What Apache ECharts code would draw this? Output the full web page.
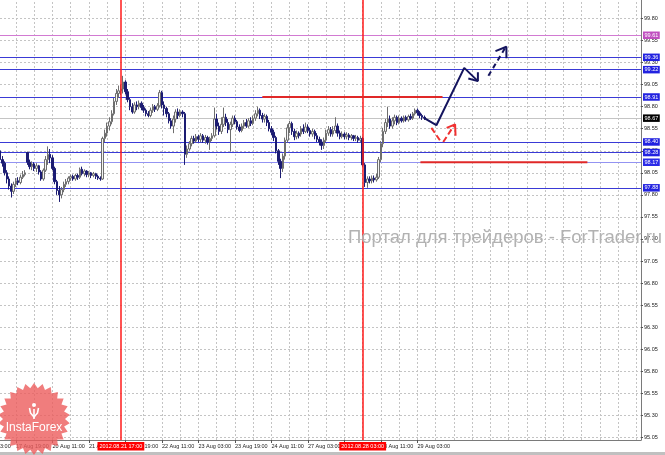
<!DOCTYPE html>
<html><head><meta charset="utf-8">
<script src="https://cdn.jsdelivr.net/npm/echarts@6/dist/echarts.min.js"></script>
<style>html,body{margin:0;padding:0;background:#fff}#c{width:665px;height:455px}</style>
</head><body><div id="c"></div>
<script>
// ---- time axis (hourly bars, weekends skipped) ----
const sessions = [['17 Aug',12,23],['20 Aug',0,23],['21 Aug',0,23],['22 Aug',0,23],['23 Aug',0,23],['24 Aug',0,23],
  ['27 Aug',0,23],['28 Aug',0,23],['29 Aug',0,23],['30 Aug',0,23],['31 Aug',0,23],['03 Sep',0,23],['04 Sep',0,5]];
const categories = [];
sessions.forEach(([d,a,b]) => { for (let h=a; h<=b; h++) categories.push(d+' '+String(h).padStart(2,'0')+':00'); });
const firstLabel = '17 Aug 19:00';
const labelStep = 16;
const gridStep = 8;

// ---- OHLC (H1) ----
const opens = [
98.30,98.20,98.16,98.05,97.98,97.90,97.84,97.92,97.96,97.94,
98.00,98.03,98.28,98.17,98.12,98.15,98.10,98.13,98.06,97.98,
98.08,98.20,98.26,98.22,98.10,97.95,97.85,97.80,97.86,97.92,
97.95,97.99,98.01,97.98,98.02,98.00,98.09,98.04,98.07,98.03,
98.05,98.02,98.04,98.01,97.99,97.98,98.44,98.50,98.58,98.63,
98.72,98.86,98.95,98.98,99.00,99.08,98.97,98.88,98.80,98.74,
98.82,98.80,98.84,98.79,98.76,98.72,98.70,98.76,98.80,98.77,
98.81,98.96,98.82,98.78,98.72,98.64,98.58,98.66,98.74,98.70,
98.74,98.72,98.26,98.32,98.38,98.44,98.41,98.46,98.43,98.47,
98.42,98.45,98.40,98.44,98.47,98.66,98.58,98.52,98.60,98.68,
98.62,98.54,98.60,98.67,98.63,98.57,98.53,98.58,98.62,98.58,
98.64,98.61,98.67,98.72,98.76,98.70,98.66,98.69,98.62,98.55,
98.51,98.45,98.30,98.18,98.10,98.24,98.42,98.56,98.61,98.52,
98.46,98.50,98.49,98.55,98.52,98.57,98.53,98.49,98.52,98.47,
98.43,98.40,98.36,98.42,98.50,98.54,98.49,98.53,98.58,98.50,
98.46,98.49,98.46,98.48,98.45,98.47,98.44,98.45,98.42,98.44,
98.14,97.94,97.98,97.96,97.99,97.97,98.00,98.20,98.38,98.52,
98.62,98.66,98.58,98.64,98.68,98.62,98.67,98.64,98.68,98.65,
98.69,98.67,98.72,98.76,98.73,98.70,98.68];
const closes = [
98.20,98.16,98.05,97.98,97.90,97.84,97.92,97.96,97.94,98.00,
98.03,98.05,98.17,98.12,98.15,98.10,98.13,98.06,97.98,98.08,
98.20,98.26,98.22,98.10,97.95,97.85,97.80,97.86,97.92,97.95,
97.99,98.01,97.98,98.02,98.00,98.09,98.04,98.07,98.03,98.05,
98.02,98.04,98.01,97.99,97.98,98.44,98.50,98.58,98.63,98.72,
98.86,98.95,98.98,99.00,99.08,98.97,98.88,98.80,98.74,98.82,
98.80,98.84,98.79,98.76,98.72,98.70,98.76,98.80,98.77,98.81,
98.96,98.82,98.78,98.72,98.64,98.58,98.66,98.74,98.70,98.74,
98.72,98.26,98.32,98.38,98.44,98.41,98.46,98.43,98.47,98.42,
98.45,98.40,98.44,98.47,98.66,98.58,98.52,98.60,98.68,98.62,
98.54,98.60,98.67,98.63,98.57,98.53,98.58,98.62,98.58,98.64,
98.61,98.67,98.72,98.76,98.70,98.66,98.69,98.62,98.55,98.51,
98.45,98.30,98.18,98.10,98.24,98.42,98.56,98.61,98.52,98.46,
98.50,98.47,98.55,98.52,98.57,98.53,98.49,98.52,98.47,98.43,
98.40,98.36,98.42,98.50,98.54,98.49,98.53,98.58,98.50,98.46,
98.49,98.46,98.48,98.45,98.47,98.44,98.45,98.42,98.44,98.14,
97.94,97.98,97.96,97.99,97.97,98.00,98.20,98.38,98.52,98.62,
98.66,98.58,98.64,98.68,98.62,98.67,98.64,98.68,98.65,98.69,
98.67,98.72,98.76,98.73,98.70,98.68,98.67];
const lows = [
98.17,98.12,98.02,97.93,97.86,97.77,97.81,97.89,97.91,97.92,
97.98,98.01,98.14,98.09,98.08,98.07,98.06,98.03,97.96,97.96,
98.06,98.14,98.16,98.08,97.92,97.80,97.72,97.76,97.83,97.89,
97.92,97.96,97.96,97.96,97.97,97.98,98.02,98.01,98.00,98.00,
97.99,98.00,97.98,97.97,97.96,97.97,98.40,98.46,98.53,98.60,
98.70,98.82,98.90,98.93,98.95,98.94,98.85,98.76,98.72,98.72,
98.76,98.77,98.76,98.73,98.69,98.68,98.68,98.73,98.74,98.75,
98.79,98.78,98.70,98.68,98.61,98.55,98.50,98.62,98.66,98.68,
98.68,98.14,98.22,98.30,98.35,98.38,98.39,98.40,98.40,98.39,
98.38,98.37,98.31,98.41,98.45,98.54,98.48,98.49,98.57,98.58,
98.50,98.29,98.57,98.60,98.54,98.51,98.51,98.55,98.56,98.56,
98.58,98.59,98.64,98.69,98.66,98.62,98.62,98.58,98.52,98.48,
98.41,98.27,98.14,97.99,98.06,98.20,98.39,98.50,98.48,98.42,
98.43,98.44,98.46,98.49,98.50,98.50,98.46,98.46,98.43,98.40,
98.36,98.31,98.32,98.40,98.47,98.46,98.46,98.50,98.46,98.43,
98.44,98.43,98.43,98.42,98.42,98.41,98.41,98.39,98.40,98.12,
97.89,97.88,97.93,97.93,97.94,97.95,97.98,98.17,98.34,98.49,
98.57,98.55,98.55,98.60,98.59,98.60,98.62,98.62,98.63,98.63,
98.65,98.65,98.70,98.70,98.67,98.65,98.65];
const highs = [
98.33,98.24,98.18,98.08,98.01,97.93,97.95,97.99,98.00,98.03,
98.07,98.08,98.29,98.20,98.18,98.17,98.16,98.14,98.08,98.10,
98.24,98.35,98.32,98.25,98.12,97.97,97.90,97.89,97.95,97.98,
98.01,98.03,98.03,98.04,98.04,98.11,98.12,98.09,98.08,98.07,
98.06,98.06,98.05,98.03,98.01,98.46,98.54,98.62,98.68,98.76,
98.90,99.00,99.04,99.05,99.15,99.10,99.00,98.90,98.84,98.85,
98.86,98.87,98.86,98.82,98.78,98.75,98.79,98.83,98.82,98.84,
98.99,98.98,98.86,98.80,98.74,98.67,98.70,98.77,98.78,98.77,
98.76,98.74,98.36,98.41,98.47,98.47,98.49,98.48,98.50,98.49,
98.48,98.47,98.46,98.50,98.79,98.72,98.62,98.68,98.79,98.72,
98.66,98.63,98.70,98.70,98.65,98.60,98.61,98.65,98.66,98.67,
98.68,98.70,98.76,98.80,98.78,98.73,98.72,98.71,98.65,98.58,
98.54,98.47,98.32,98.21,98.27,98.45,98.60,98.64,98.63,98.55,
98.53,98.52,98.58,98.60,98.62,98.60,98.56,98.55,98.54,98.50,
98.46,98.43,98.45,98.54,98.58,98.57,98.58,98.68,98.61,98.53,
98.52,98.51,98.51,98.50,98.49,98.48,98.48,98.47,98.47,98.46,
98.16,98.01,98.01,98.02,98.02,98.04,98.23,98.41,98.56,98.66,
98.80,98.70,98.68,98.71,98.70,98.70,98.69,98.70,98.70,98.71,
98.72,98.74,98.78,98.78,98.75,98.72,98.70];

// ---- price axis ticks ----
const yTicks = [95.05,95.30,95.55,95.80,96.05,96.30,96.55,96.80,97.05,97.30,97.55,97.80,98.05,98.30,98.55,98.80,99.05,99.30,99.55,99.80];
const yMin = 95.02, yMax = 100.01;

// ---- horizontal levels ----
const levelValues = [99.61, 99.36, 99.22, 98.91, 98.40, 98.28, 98.17, 97.88];
const levelKinds  = ['pink','blue','blue','blue','blue','blue','light','blue'];
const lastPrice = 98.67;

// ---- marked times (red vertical lines) ----
const markedTimes = ['21 Aug 17:00', '28 Aug 03:00'];
const markedTexts = ['2012.08.21 17:00', '2012.08.28 03:00'];

// ---- hand-drawn annotations (bar index, price) ----
const redUpper = [[115.0, 98.91], [194.0, 98.91]];
const redLower = [[184.3, 98.17], [257.5, 98.17]];
const navyPath = [[186, 98.67], [191.3, 98.59], [203.5, 99.24], [209.5, 99.09]];
const navyHead = [[205.3, 99.12], [209.5, 99.09], [209.5, 99.19]];
const navyDash = [[214.1, 99.15], [221.3, 99.46]];
const navyDashHead = [[217.2, 99.43], [222.0, 99.48], [222.0, 99.35]];
const redLeg1 = [[189.1, 98.56], [193.1, 98.41]];
const redLeg2 = [[194.3, 98.40], [199.1, 98.59]];
const redHead = [[195.8, 98.56], [199.5, 98.60], [199.7, 98.47]];

const ohlc = opens.map((o, i) => [o, closes[i], lows[i], highs[i]]);
const lastIdx = ohlc.length - 1;
const firstLabelIdx = categories.indexOf(firstLabel);
const isLabelIdx = (i) => i <= lastIdx && (i - firstLabelIdx) % labelStep === 0;

const levelColor = { pink: '#d27ad2', blue: '#3a3ad6', light: '#9393f2' };
const boxColor = { pink: '#c050c0', blue: '#2222e0', light: '#2a2ae8' };
const boxLabel = (text, bg) => ({ show: true, position: 'end', distance: 2, formatter: text, color: '#fff',
  backgroundColor: bg, fontSize: 5.5, fontFamily: 'Liberation Sans', padding: [1, 1.5, 0.5, 1.5] });

const levelMarks = levelValues.map((v, i) => ({
  yAxis: v, lineStyle: { color: levelColor[levelKinds[i]], width: 1, type: 'solid' },
  label: boxLabel(v.toFixed(2), boxColor[levelKinds[i]])
}));
levelMarks.push({ yAxis: lastPrice, lineStyle: { color: '#c4c4c4', width: 1, type: 'solid' },
  label: boxLabel(lastPrice.toFixed(2), '#000') });

const timeIdx = markedTimes.map(t => categories.indexOf(t));
const timeMarks = timeIdx.map((idx, i) => ({
  xAxis: idx,
  label: { show: true, position: 'start', distance: 2, formatter: markedTexts[i], color: '#fff',
    backgroundColor: '#ff0000', fontSize: 5.5, fontFamily: 'Liberation Sans', padding: [1.5, 2, 1, 2] }
}));

const gridMarks = [];
for (let i = firstLabelIdx; i < categories.length; i += gridStep) gridMarks.push({ xAxis: i });
yTicks.forEach(v => gridMarks.push({ yAxis: v }));

function pathSeries(data, color, width, type) {
  return { type: 'line', xAxisIndex: 1, yAxisIndex: 0, data, showSymbol: false, symbol: 'none', silent: true,
    lineStyle: { color, width, type }, z: 6, animation: false };
}

// starburst logo outline
const star = [];
const cx = 34, cy = 419, N = 26;
for (let k = 0; k < N * 2; k++) {
  const r = k % 2 === 0 ? 36 : 31;
  const a = Math.PI * k / N - Math.PI / 2;
  star.push([cx + r * Math.cos(a), cy + r * Math.sin(a)]);
}

const chart = echarts.init(document.getElementById('c'), null, { renderer: 'canvas' });
chart.setOption({
  animation: false,
  backgroundColor: '#ffffff',
  grid: { left: 0, right: 24, top: 0, bottom: 15, containLabel: false },
  xAxis: [{
    type: 'category', data: categories, boundaryGap: false,
    axisLine: { show: true, onZero: false, lineStyle: { color: '#7a7a7a', width: 1 } },
    axisTick: { show: true, length: 3, lineStyle: { color: '#555' }, interval: isLabelIdx },
    axisLabel: { show: true, interval: isLabelIdx, align: 'left', margin: 3, fontSize: 5.5,
      fontFamily: 'Liberation Sans', color: '#222', hideOverlap: false },
    splitLine: { show: false }
  }, {
    type: 'value', min: 0, max: categories.length - 1, show: false,
    axisLine: { show: false, onZero: false }, splitLine: { show: false }, axisTick: { show: false }, axisLabel: { show: false }
  }],
  yAxis: [{
    type: 'value', position: 'right', min: yMin, max: yMax,
    axisLine: { show: true, onZero: false, lineStyle: { color: '#7a7a7a', width: 1 } },
    axisTick: { show: true, length: 2, customValues: yTicks, lineStyle: { color: '#555' } },
    axisLabel: { show: true, customValues: yTicks, formatter: (v) => Number(v).toFixed(2), margin: 3,
      fontSize: 5.5, fontFamily: 'Liberation Sans', color: '#222' },
    splitLine: { show: false }
  }],
  series: [
  { type: 'line', data: [], xAxisIndex: 0, yAxisIndex: 0, z: 1, silent: true,
    markLine: { silent: true, symbol: 'none', animation: false, z: 1, label: { show: false },
      lineStyle: { color: '#c4c4c4', type: [2, 2], width: 1 }, data: gridMarks } },
  { type: 'line', data: [], xAxisIndex: 0, yAxisIndex: 0, z: 2, silent: true,
    markLine: { silent: true, symbol: 'none', animation: false, z: 2, data: levelMarks } },
  { type: 'candlestick', data: ohlc, xAxisIndex: 0, yAxisIndex: 0, barWidth: 2,
    itemStyle: { color: '#f4f4f4', color0: '#1c1c72', borderColor: '#6e6e6e', borderColor0: '#1c1c72', borderWidth: 1 },
    z: 3 },
  { type: 'line', data: [], xAxisIndex: 0, yAxisIndex: 0, z: 4, silent: true,
    markLine: { silent: true, symbol: 'none', animation: false, z: 4,
      lineStyle: { color: '#ff1a1a', width: 1.5, type: 'solid' }, data: timeMarks } },
  pathSeries(redUpper, '#e02828', 2, 'solid'),
  pathSeries(redLower, '#e02828', 2, 'solid'),
  pathSeries(navyPath, '#14145e', 2, 'solid'),
  pathSeries(navyHead, '#14145e', 2, 'solid'),
  pathSeries(navyDash, '#14145e', 2, [5, 4]),
  pathSeries(navyDashHead, '#14145e', 2, 'solid'),
  pathSeries(redLeg1, '#f03030', 2, [6, 3]),
  pathSeries(redLeg2, '#f03030', 2, [6, 3]),
  pathSeries(redHead, '#f03030', 2, 'solid')
  ],
  graphic: [
    { type: 'text', left: 348, top: 228, z: 50, style: { text: 'Портал для трейдеров - ForTrader.ru',
      fill: '#b2b2b2', fontSize: 18.5, fontFamily: 'Liberation Sans' } },
    { type: 'text', left: 0, top: 443, z: 50, style: { text: '3:00', fill: '#222', fontSize: 5.5, fontFamily: 'Liberation Sans' } },
    { type: 'rect', left: 0, top: 452, z: 40, shape: { width: 665, height: 3 }, style: { fill: '#c0c0c0' } },
    { type: 'polygon', z: 60, shape: { points: star }, style: { fill: 'rgba(236,92,92,0.8)' } },
    { type: 'circle', z: 61, shape: { cx: 34, cy: 405, r: 2 }, style: { fill: '#fff' } },
    { type: 'polyline', z: 61, shape: { points: [[29.5, 408], [30.5, 413], [34, 417], [37.5, 413], [38.5, 408]] },
      style: { stroke: '#fff', lineWidth: 1.6, fill: null } },
    { type: 'line', z: 61, shape: { x1: 34, y1: 409, x2: 34, y2: 419 }, style: { stroke: '#fff', lineWidth: 1.6 } },
    { type: 'text', z: 61, x: 34, y: 428, style: { text: 'InstaForex', fill: '#fff', fontSize: 12,
      fontFamily: 'Liberation Sans', align: 'center', verticalAlign: 'middle' } }
  ]
});
</script>
</body></html>
